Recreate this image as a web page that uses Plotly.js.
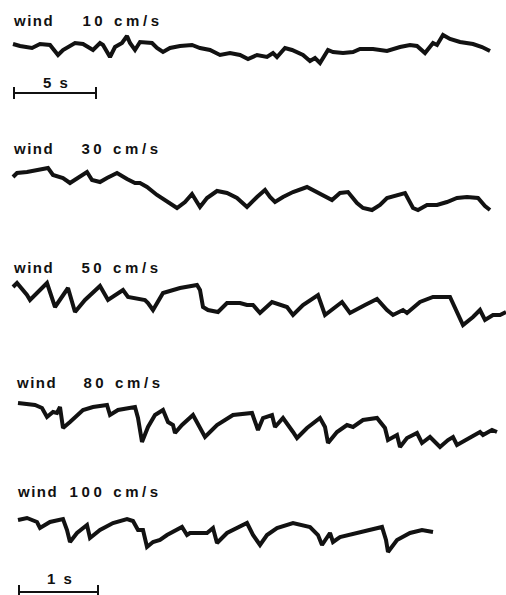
<!DOCTYPE html>
<html>
<head>
<meta charset="utf-8">
<script src="https://cdn.plot.ly/plotly-3.0.1.min.js"></script>
<style>
html,body{margin:0;padding:0;background:#fff;}
#chart{width:506px;height:595px;}
</style>
</head>
<body>
<div id="chart"></div>
<script>
// Recordings: horizontal position (chart units) and trace level (chart units, downward)
const labels = ["wind", "wind", "wind", "wind", "wind"];
const speeds = ["10 cm/s", "30 cm/s", "50 cm/s", "80 cm/s", "100 cm/s"];
const scaleLabels = ["5 s", "1 s"];

const t10 = [13,20,32,40,50,58,63,75,83,88,93,100,103,110,115,122,127,130,135,140,152,157,163,170,180,192,200,210,220,230,240,248,257,267,273,277,285,292,303,310,315,320,328,333,343,353,360,373,387,400,410,417,425,433,437,443,450,460,473,482,490];
const y10 = [44,46,48,44,45,55,50,43,44,47,50,43,45,57,47,43,36,43,50,42,43,48,52,48,46,45,48,50,55,53,55,59,55,57,53,57,48,50,55,61,58,63,50,52,53,52,49,49,51,47,45,46,53,43,45,35,39,42,44,47,51];

const t30 = [13,17,27,40,48,53,63,70,77,87,92,100,107,117,127,135,140,147,157,167,177,185,192,200,207,217,227,237,247,257,265,270,275,283,293,307,317,325,332,340,348,357,363,372,380,387,397,405,413,418,427,437,447,457,467,478,485,490];
const y30 = [177,173,172,170,168,175,178,183,178,172,180,182,178,173,179,183,183,187,195,202,208,202,194,207,198,191,193,198,207,197,190,197,202,197,192,187,192,197,200,193,192,203,208,210,205,198,195,193,208,210,205,205,202,198,197,198,206,210];

const t50 = [13,17,27,30,47,55,68,75,85,100,108,123,128,145,148,153,163,180,197,200,203,208,218,227,240,247,253,260,272,280,287,293,303,318,322,325,342,350,365,377,387,393,403,407,420,433,450,455,463,473,480,485,493,500,506];
const y50 = [287,283,295,300,283,307,288,312,300,286,300,290,297,300,303,310,293,288,285,290,307,310,312,303,303,305,305,313,302,305,307,315,305,295,308,315,302,313,305,299,310,315,310,313,302,297,297,307,325,317,310,320,315,315,312];

const t80 = [18,25,35,42,47,53,57,60,63,70,83,93,107,110,118,135,138,142,148,155,163,168,173,175,182,193,200,205,217,233,252,255,258,263,272,275,283,293,297,307,320,325,328,337,347,353,363,377,385,388,397,400,407,417,422,430,440,448,453,457,470,480,483,492,497];
const y80 = [403,404,405,408,417,412,413,407,428,422,410,407,405,415,410,407,418,442,427,415,410,422,425,433,425,415,428,437,425,415,413,423,430,418,415,427,418,432,438,428,418,427,443,432,425,427,420,418,428,440,435,447,438,433,443,437,447,440,437,445,437,432,435,430,432];

const t100 = [18,27,37,40,50,63,67,70,77,87,90,100,113,127,133,138,143,147,153,160,167,177,182,187,190,200,207,213,217,227,240,247,253,260,267,277,293,310,318,322,330,333,340,357,370,382,386,388,397,410,422,433];
const y100 = [520,518,522,528,522,519,530,542,533,525,538,530,523,519,521,530,530,547,542,540,535,530,527,535,533,533,533,528,543,533,527,523,535,545,535,528,523,527,535,545,533,542,537,533,530,527,540,552,540,533,530,532];

const series = [[t10, y10], [t30, y30], [t50, y50], [t80, y80], [t100, y100]];
// centre of "wind", centre of speed text, vertical centre
const labelPos = [[33, 122.5, 20], [33, 121, 148], [33, 121.5, 267], [36, 123, 382], [37.5, 115.5, 491]];

const traces = series.map(function (s) {
  return {x: s[0], y: s[1], type: 'scatter', mode: 'lines',
    line: {color: '#121212', width: 4}, hoverinfo: 'skip', showlegend: false};
});

const font = {family: 'Liberation Sans, Arial, sans-serif', size: 15, color: '#111'};
const annotations = [];
labelPos.forEach(function (p, i) {
  annotations.push({x: p[0], y: p[2], xref: 'x', yref: 'y', text: '<b>' + labels[i] + '</b>', showarrow: false, xanchor: 'center', yanchor: 'middle', font: font});
  annotations.push({x: p[1], y: p[2], xref: 'x', yref: 'y', text: '<b>' + speeds[i] + '</b>', showarrow: false, xanchor: 'center', yanchor: 'middle', font: font});
});
annotations.push({x: 56, y: 82, xref: 'x', yref: 'y', text: '<b>' + scaleLabels[0] + '</b>', showarrow: false, xanchor: 'center', yanchor: 'middle', font: font});
annotations.push({x: 60, y: 578, xref: 'x', yref: 'y', text: '<b>' + scaleLabels[1] + '</b>', showarrow: false, xanchor: 'center', yanchor: 'middle', font: font});

const barLine = {color: '#111', width: 2};
const shapes = [
  {type: 'line', xref: 'x', yref: 'y', x0: 13, x1: 96, y0: 93, y1: 93, line: barLine},
  {type: 'line', xref: 'x', yref: 'y', x0: 14, x1: 14, y0: 87, y1: 99, line: barLine},
  {type: 'line', xref: 'x', yref: 'y', x0: 96, x1: 96, y0: 87, y1: 99, line: barLine},
  {type: 'line', xref: 'x', yref: 'y', x0: 18, x1: 99, y0: 592, y1: 592, line: barLine},
  {type: 'line', xref: 'x', yref: 'y', x0: 19, x1: 19, y0: 585, y1: 596, line: barLine},
  {type: 'line', xref: 'x', yref: 'y', x0: 98, x1: 98, y0: 585, y1: 596, line: barLine}
];

const layout = {
  width: 506, height: 595,
  margin: {l: 0, r: 0, t: 0, b: 0},
  paper_bgcolor: '#fff', plot_bgcolor: '#fff',
  xaxis: {range: [0, 506], visible: false, fixedrange: true},
  yaxis: {range: [595, 0], visible: false, fixedrange: true},
  annotations: annotations,
  shapes: shapes,
  showlegend: false
};

Plotly.newPlot('chart', traces, layout, {staticPlot: true}).then(function () {
  document.querySelectorAll('.annotation-text').forEach(function (el) {
    const txt = el.textContent;
    if (txt === 'wind') el.style.letterSpacing = '1.5px';
    else if (txt.length <= 3) el.style.letterSpacing = '2px';
    else el.style.letterSpacing = '3.6px';
  });
});
</script>
</body>
</html>
